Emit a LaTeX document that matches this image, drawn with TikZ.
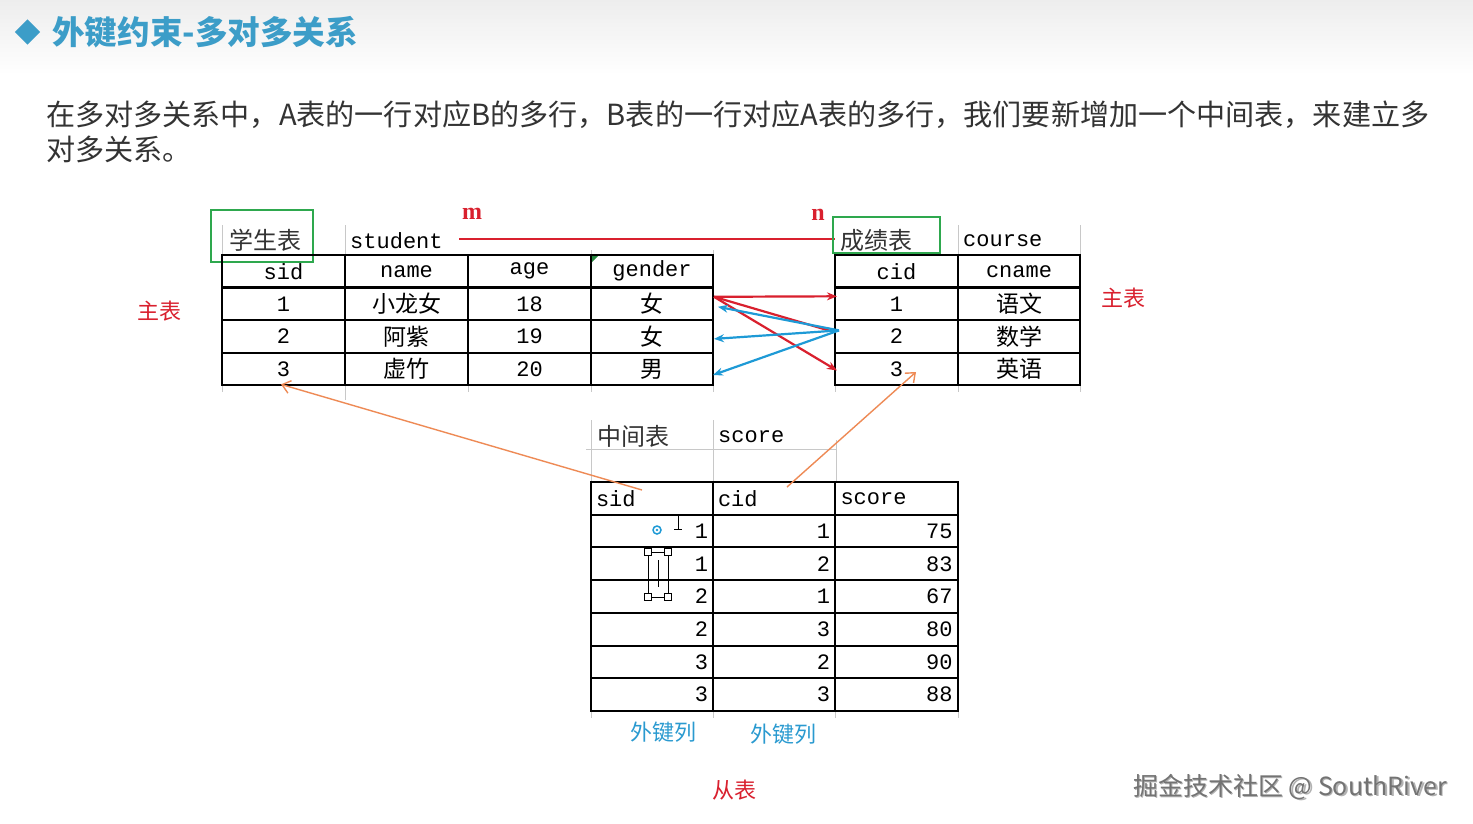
\documentclass[tikz,border=0pt]{standalone}
\usepackage{fontspec}
\usetikzlibrary{arrows.meta,calc,shadings}
\newfontfamily\cjk{Noto Sans CJK SC}
\newfontfamily\mono{Liberation Mono}
\newfontfamily\serifb{Liberation Serif}
\definecolor{titleblue}{HTML}{3C9DC8}
\definecolor{bodytext}{HTML}{333333}
\definecolor{redc}{HTML}{D9202E}
\definecolor{bluec}{HTML}{1E9AD6}
\definecolor{orangec}{HTML}{EE8A55}
\definecolor{greenc}{HTML}{2EA84E}
\definecolor{gridgray}{HTML}{C8C8C8}
\definecolor{labblue}{HTML}{2A9AD0}
\tikzset{
  cell/.style={draw, line width=2pt, minimum height=32.7pt, inner sep=5pt, anchor=center, font=\fontsize{22}{24}\selectfont\mono},
  ccell/.style={cell, font=\fontsize{23}{25}\selectfont\cjk},
  c123/.style={minimum width=123pt},
  rcell/.style={cell, minimum width=122.5pt, text width=112pt, align=right},
  lcell/.style={cell, minimum width=122.5pt, text width=112pt, align=left},
  capt/.style={anchor=west, inner sep=0, font=\fontsize{22}{24}\selectfont\mono},
  ccapt/.style={anchor=west, inner sep=0, font=\fontsize{24}{26}\selectfont\cjk, text=black!80},
  greenbox/.style={draw=greenc, line width=2.6pt},
  faint/.style={draw=gridgray, line width=1pt},
  redarrow/.style={draw=redc, line width=2.2pt, -{Stealth[length=10pt,width=8pt]}},
  bluearrow/.style={draw=bluec, line width=2.2pt, -{Stealth[length=10pt,width=8pt]}},
  orangearrow/.style={draw=orangec, line width=1.4pt, -{Straight Barb[length=8pt,width=13pt]}},
  redlabel/.style={text=redc, font=\fontsize{22}{24}\selectfont\cjk, inner sep=0},
  bluelabel/.style={text=labblue, font=\fontsize{22}{24}\selectfont\cjk, inner sep=0},
  mnlabel/.style={text=redc, font=\fontsize{24}{26}\selectfont\serifb\bfseries, inner sep=0},
}
\begin{document}
\begin{tikzpicture}[x=1pt,y=-1pt]
\useasboundingbox (0,0) rectangle (1473,823);
\fill[white] (0,0) rectangle (1473,823);
\shade[top color=black!7, bottom color=white] (0,0) rectangle (1473,75);

% title
\node[fill=titleblue, rotate=45, minimum size=18pt, inner sep=0] (diam) at (27.5,32) {};
\node[anchor=west, inner sep=0, text=titleblue, font=\fontsize{32.6}{35}\selectfont\cjk\bfseries] (title) at (52,32) {外键约束-多对多关系};
\node[anchor=west, inner sep=0, text=bodytext, font=\fontsize{29.1}{34}\selectfont\cjk] (para1) at (46,115) {在多对多关系中，A表的一行对应B的多行，B表的一行对应A表的多行，我们要新增加一个中间表，来建立多};
\node[anchor=west, inner sep=0, text=bodytext, font=\fontsize{29.1}{34}\selectfont\cjk] (para2) at (46,149) {对多关系。};

% faint excel grid lines
\draw[faint] (222,225) -- (222,255) (345,225) -- (345,255) (591,250) -- (591,255) (713,250) -- (713,255);
\draw[faint] (222,385) -- (222,392) (345,385) -- (345,400) (468,385) -- (468,392) (591,385) -- (591,392) (713,385) -- (713,392);
\draw[faint] (958,225) -- (958,255) (1080,225) -- (1080,255) (835,385) -- (835,392) (958,385) -- (958,392) (1080,385) -- (1080,392);
\draw[faint] (591,420) -- (591,482) (713,420) -- (713,482) (836,440) -- (836,482) (586,449) -- (836,449);
\draw[faint] (591,711) -- (591,718) (713,711) -- (713,718) (835,711) -- (835,718) (958,711) -- (958,718);

% student table
\node[ccapt] (stname) at (229,240) {学生表};
\node[capt] (sten) at (350,241) {student};
\draw[greenbox] (211,210) rectangle (313,262);
\node[cell,c123] (st-h1) at (283.5,271.2) {sid};
\node[cell,c123] (st-h2) at (406.5,271.2) {name};
\node[cell,c123] (st-h3) at (529.5,271.2) {age};
\node[cell,c123,minimum width=122pt] (st-h4) at (652,271.2) {gender};
\node[cell,c123] (st-s1) at (283.5,303.8) {1};
\node[ccell,c123] (st-n1) at (406.5,303.8) {小龙女};
\node[cell,c123] (st-a1) at (529.5,303.8) {18};
\node[ccell,c123,minimum width=122pt] (st-g1) at (652,303.8) {女};
\node[cell,c123] (st-s2) at (283.5,336.4) {2};
\node[ccell,c123] (st-n2) at (406.5,336.4) {阿紫};
\node[cell,c123] (st-a2) at (529.5,336.4) {19};
\node[ccell,c123,minimum width=122pt] (st-g2) at (652,336.4) {女};
\node[cell,c123] (st-s3) at (283.5,369) {3};
\node[ccell,c123] (st-n3) at (406.5,369) {虚竹};
\node[cell,c123] (st-a3) at (529.5,369) {20};
\node[ccell,c123,minimum width=122pt] (st-g3) at (652,369) {男};
\fill[greenc!80!black] (592,256) -- (598,256) -- (592,262) -- cycle;

% m n link
\node[mnlabel] (mlab) at (472,214) {m};
\node[mnlabel] (nlab) at (818,215) {n};
\coordinate (mline) at (459,239);
\coordinate (nline) at (835,239);
\draw[redc, line width=1.5pt] (mline) -- (nline);

% course table
\node[ccapt] (coname) at (840,240) {成绩表};
\node[capt] (coen) at (963,241) {course};
\draw[greenbox] (833,217) rectangle (940,253);
\node[cell,c123] (co-h1) at (896.5,271.2) {cid};
\node[cell,minimum width=122pt] (co-h2) at (1019,271.2) {cname};
\node[cell,c123] (co-i1) at (896.5,303.8) {1};
\node[ccell,minimum width=122pt] (co-n1) at (1019,303.8) {语文};
\node[cell,c123] (co-i2) at (896.5,336.4) {2};
\node[ccell,minimum width=122pt] (co-n2) at (1019,336.4) {数学};
\node[cell,c123] (co-i3) at (896.5,369) {3};
\node[ccell,minimum width=122pt] (co-n3) at (1019,369) {英语};

\node[redlabel] (zb1) at (159,311) {主表};
\node[redlabel] (zb2) at (1123,298) {主表};

% arrows between student and course
\coordinate (rs) at ([yshift=7pt]st-g1.east);
\draw[redarrow] (rs) -- ([xshift=3pt,yshift=7.5pt]co-i1.west);
\draw[redc, line width=2.2pt] (rs) -- ([xshift=-2pt,yshift=5pt]co-i2.west);
\draw[redarrow] (rs) -- ([xshift=3pt,yshift=-1.5pt]co-i3.west);
\coordinate (bs) at ([xshift=5pt,yshift=6pt]co-i2.west);
\draw[bluearrow] (bs) -- ([xshift=4pt,yshift=-3pt]st-g1.east);
\draw[bluearrow] (bs) -- ([xshift=0pt,yshift=-2.5pt]st-g2.east);
\draw[bluearrow] (bs) -- ([xshift=-1pt,yshift=-6pt]st-g3.east);

% middle table
\node[ccapt] (mdname) at (597,436) {中间表};
\node[capt] (mden) at (718,437) {score};
\node[lcell,minimum width=122pt] (md-h1) at (652,498.35) {sid};
\node[lcell,minimum width=122pt] (md-h2) at (774,498.35) {cid};
\node[lcell,minimum width=123pt] (md-h3) at (896.5,498.35) {score};
\foreach \va/\vb/\vc [count=\k] in {1/1/75,1/2/83,2/1/67,2/3/80,3/2/90,3/3/88}{
  \node[rcell,minimum width=122pt] (md-s\k) at (652,498.35+\k*32.7) {\va};
  \node[rcell,minimum width=122pt] (md-c\k) at (774,498.35+\k*32.7) {\vb};
  \node[rcell,minimum width=123pt] (md-v\k) at (896.5,498.35+\k*32.7) {\vc};
}

% orange arrows from middle table to main tables
\coordinate (os1) at (642,490);
\coordinate (os2) at (787,487);
\draw[orangearrow] (os1) -- ([xshift=-2.5pt,yshift=2pt]st-s3.south);
\draw[orangearrow] (os2) -- ([xshift=19.5pt,yshift=-3pt]co-i3.center);

% editing artefacts
\node[circle, draw=bluec, line width=1.5pt, minimum size=8pt, inner sep=0] (spiral) at (657,530) {};
\fill[bluec] (spiral.center) circle (1.4pt);
\draw[black, line width=1pt] (678,516) -- (678,529) (674,529) -- (682,529);
\draw[black, line width=1pt] (648,552) rectangle (668,597) (658,560) -- (658,587);
\foreach \p in {(648,552),(668,552),(648,597),(668,597)}{
  \draw[black, fill=white, line width=0.8pt] \p +(-3.5,-3.5) rectangle +(3.5,3.5);
}

\node[bluelabel] (fk1) at (663,732) {外键列};
\node[bluelabel] (fk2) at (783,734) {外键列};
\node[redlabel] (cb) at (734,790) {从表};

% watermark
\node[anchor=west, inner sep=0, text=black!30, font=\fontsize{25}{27}\selectfont\cjk] (wm0) at (1134.5,788.5) {掘金技术社区 @ SouthRiver};
\node[anchor=west, inner sep=0, text=black!55, font=\fontsize{25}{27}\selectfont\cjk] (wm) at (1133,787) {掘金技术社区 @ SouthRiver};
\end{tikzpicture}
\end{document}
